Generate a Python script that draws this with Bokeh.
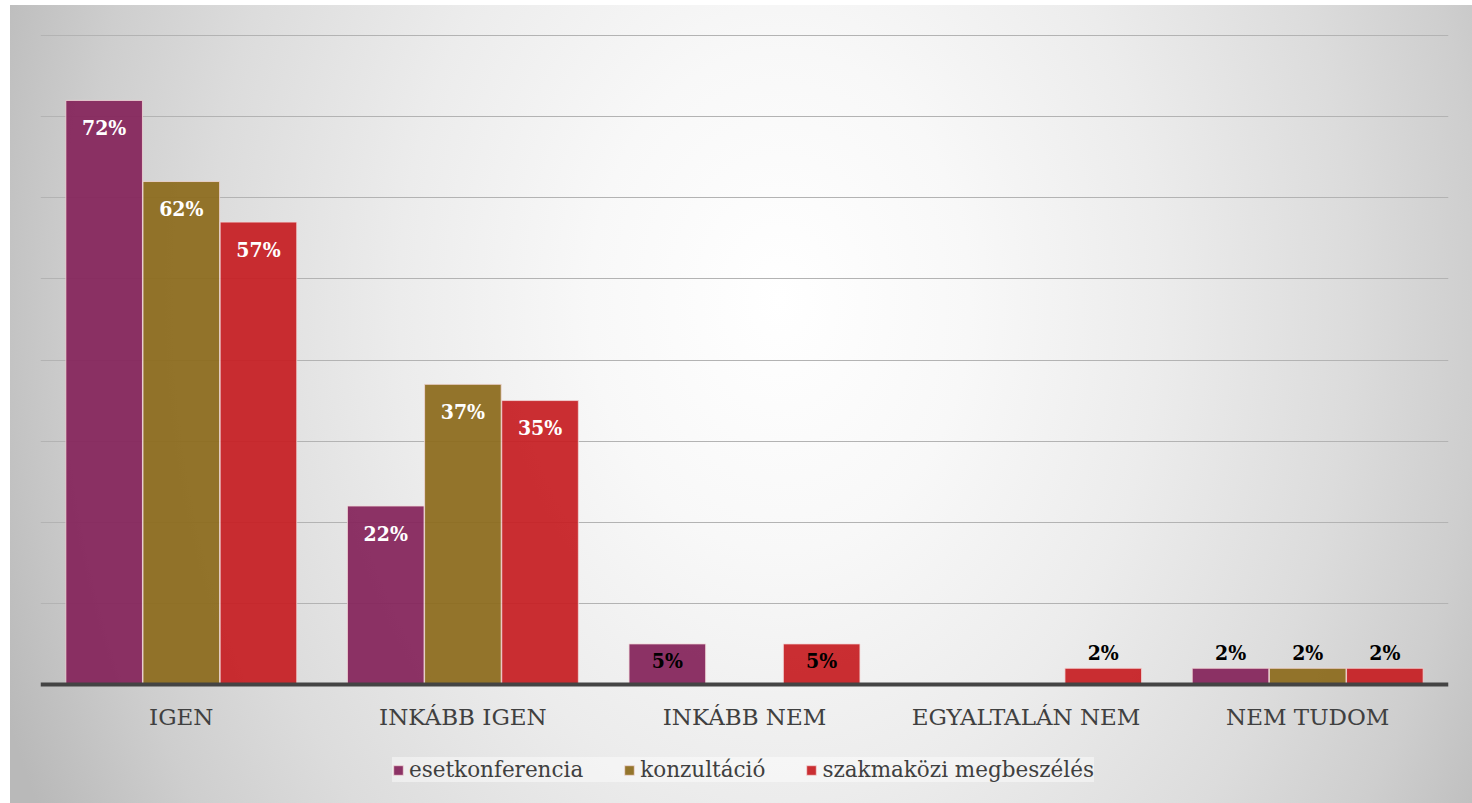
from bokeh.plotting import figure
from bokeh.models import (ColumnDataSource, Range1d, FixedTicker, Legend, LegendItem, Span)
from bokeh.transform import dodge
from bokeh.core.properties import value
from bokeh.embed import file_html
from bokeh.resources import INLINE

categories = ["IGEN", "INKÁBB IGEN", "INKÁBB NEM", "EGYALTALÁN NEM", "NEM TUDOM"]
series_names = ["esetkonferencia", "konzultáció", "szakmaközi megbeszélés"]
esetkonferencia = [72, 22, 5, 0, 2]
konzultacio = [62, 37, 0, 0, 2]
szakmakozi = [57, 35, 5, 2, 2]
grid_ticks = [0.1, 0.2, 0.3, 0.4, 0.5, 0.6, 0.7, 0.8]
colors = ["#84245A", "#8C6A1C", "#C61E22"]

series_values = [esetkonferencia, konzultacio, szakmakozi]
offsets = [-0.274, 0.0, 0.274]
BAR_W = 0.272

W, H = 1472, 803
# frame extends below zero so that category labels and legend live inside it
p = figure(x_range=categories, y_range=Range1d(-0.1467, 0.8025), width=W, height=H,
           output_backend="svg", toolbar_location=None,
           min_border_left=40, min_border_right=24, min_border_top=33,
           min_border_bottom=0)
p.background_fill_alpha = 0
p.border_fill_alpha = 0
p.outline_line_color = None
p.styles = {
    "background": ("radial-gradient(760px 1000px at 770px 295px, #ffffff 0%, #f8f8f8 25%, "
                   "#ececec 50%, #dcdcdc 75%, #cecece 92%, #b9b9b9 110%) "
                   "10px 5px / calc(100% - 10px) calc(100% - 5px) no-repeat, #ffffff"),
}

p.xaxis.visible = False
p.yaxis.visible = False
p.xgrid.grid_line_color = None
p.ygrid.ticker = FixedTicker(ticks=grid_ticks)
p.ygrid.grid_line_color = "#b3b3b3"
p.ygrid.grid_line_width = 1

legend_items = []
for name, vals, off, col in zip(series_names, series_values, offsets, colors):
    cats = [c for c, v in zip(categories, vals) if v > 0]
    vs = [v / 100 for v in vals if v > 0]
    labels = [f"{v}%" for v in vals if v > 0]
    big = [v >= 10 for v in vals if v > 0]
    small = [3 <= v < 10 for v in vals if v > 0]
    src = ColumnDataSource(dict(cat=cats, val=vs, label=labels))
    r = p.vbar(x=dodge("cat", off, range=p.x_range), top="val", width=BAR_W,
               source=src, fill_color=col, fill_alpha=0.93,
               line_color="#f3d9d9", line_alpha=0.8, line_width=1)
    legend_items.append(LegendItem(label=name, renderers=[r]))

    groups = [
        ([i for i, b in enumerate(big) if b], "white", 27, "middle"),
        ([i for i, s in enumerate(small) if s], "black", 17, "middle"),
        ([i for i, (b, s) in enumerate(zip(big, small)) if not b and not s], "black", -3, "bottom"),
    ]
    for idx, tcol, yoff, base in groups:
        if not idx:
            continue
        s2 = ColumnDataSource(dict(cat=[cats[i] for i in idx], val=[vs[i] for i in idx],
                                   label=[labels[i] for i in idx]))
        p.text(x=dodge("cat", off, range=p.x_range), y="val", text="label", source=s2,
               text_align="center", text_baseline=base, y_offset=yoff,
               text_font=value("DejaVu Serif Condensed"), text_font_style="bold",
               text_font_size="21px", text_color=tcol)

# horizontal axis line at zero
p.add_layout(Span(location=0, dimension="width", line_color="#444444", line_width=4))

# category labels under the axis
cat_src = ColumnDataSource(dict(cat=categories, y=[0] * len(categories)))
p.text(x="cat", y="y", text="cat", source=cat_src, text_align="center",
       text_baseline="middle", y_offset=33, text_font=value("DejaVu Serif"),
       text_font_size="23px", text_color="#404040")

legend = Legend(items=legend_items, orientation="horizontal", location=(352, 21),
                label_text_font="DejaVu Serif", label_text_font_size="21.5px",
                label_text_color="#404040", glyph_width=12, glyph_height=12,
                label_standoff=5, spacing=40, padding=11, margin=0,
                background_fill_color="white", background_fill_alpha=0.45,
                border_line_color=None)
p.add_layout(legend, "center")

open("out.html", "w").write(file_html(p, INLINE))
